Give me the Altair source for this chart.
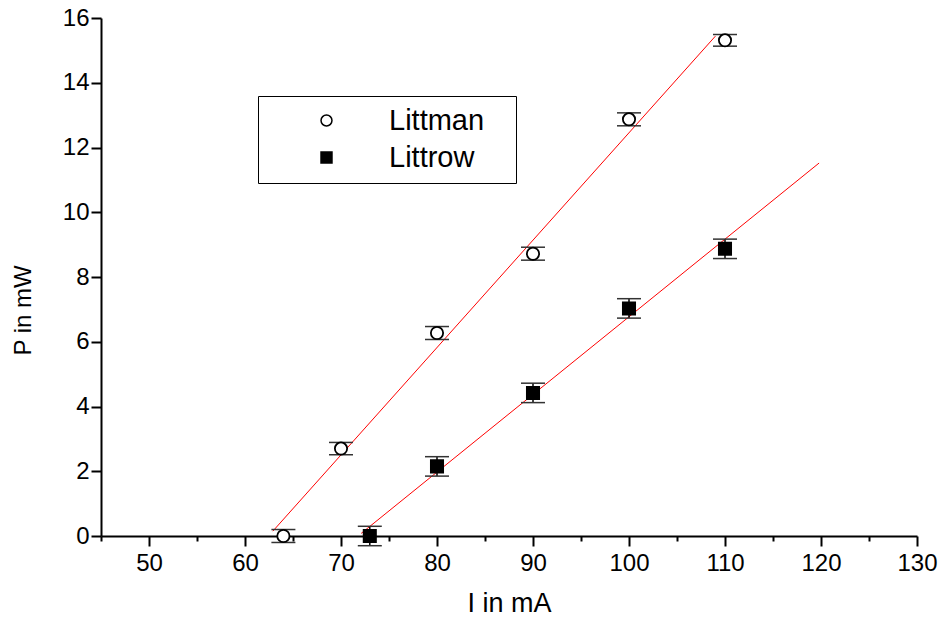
import altair as alt
import pandas as pd

littman_I = [64, 70, 80, 90, 100, 110]
littman_P = [0.0, 2.70, 6.27, 8.72, 12.87, 15.31]
littman_err = [0.20, 0.19, 0.20, 0.20, 0.20, 0.18]

littrow_I = [73, 80, 90, 100, 110]
littrow_P = [0.0, 2.15, 4.42, 7.03, 8.87]
littrow_err = [0.30, 0.30, 0.30, 0.30, 0.30]

# Fitted lines (end points)
fit_littman_I = [62.9, 109.0]
fit_littman_P = [0.15, 15.44]
fit_littrow_I = [72.1, 119.8]
fit_littrow_P = [0.08, 11.52]

x_ticks = list(range(45, 131, 5))
y_ticks = list(range(0, 17, 1))
series_names = ["Littman", "Littrow"]

rows = []
for i, p, e in zip(littman_I, littman_P, littman_err):
    rows.append({"series": "Littman", "I": i, "P": p, "lo": p - e, "hi": p + e})
for i, p, e in zip(littrow_I, littrow_P, littrow_err):
    rows.append({"series": "Littrow", "I": i, "P": p, "lo": p - e, "hi": p + e})
pts = pd.DataFrame(rows)

fit_rows = []
for i, p in zip(fit_littman_I, fit_littman_P):
    fit_rows.append({"series": "Littman", "I": i, "P": p})
for i, p in zip(fit_littrow_I, fit_littrow_P):
    fit_rows.append({"series": "Littrow", "I": i, "P": p})
fit = pd.DataFrame(fit_rows)

FONT = "Liberation Sans"

xscale = alt.Scale(domain=[45, 130], nice=False, zero=False)
yscale = alt.Scale(domain=[0, 16], nice=False, zero=False)

xaxis = alt.Axis(
    title="I in mA", values=x_ticks,
    labelExpr="datum.value % 10 === 0 ? datum.label : ''",
    tickSize={"condition": {"test": "datum.value % 10 === 0", "value": 10}, "value": 5},
    labelFont=FONT, labelFontSize=24, labelPadding=5, labelColor="black",
    titleFont=FONT, titleFontSize=27, titleFontWeight="normal", titleColor="black",
    titleY=67, titleBaseline="middle",
    domainColor="black", domainWidth=2, tickColor="black", tickWidth=2,
    grid=False, labelFlush=False, labelOverlap=False,
)
yaxis = alt.Axis(
    title="P in mW", values=y_ticks,
    labelExpr="datum.value % 2 === 0 ? datum.label : ''",
    tickSize={"condition": {"test": "datum.value % 2 === 0", "value": 10}, "value": 5},
    labelFont=FONT, labelFontSize=24, labelPadding=2, labelColor="black",
    titleFont=FONT, titleFontSize=24, titleFontWeight="normal", titleColor="black",
    titleX=-78, titleY=292, titleBaseline="middle", titleAngle=270,
    domainColor="black", domainWidth=2, tickColor="black", tickWidth=2,
    grid=False, labelFlush=False, labelOverlap=False,
)

legend = alt.Legend(
    title=None, orient="none", legendX=157, legendY=78,
    strokeColor="black", padding=10, fillColor="white",
    symbolOffset=44, labelOffset=48, rowPadding=7,
    labelFont=FONT, labelFontSize=29, labelColor="black",
    symbolSize=120, symbolStrokeColor="black", symbolStrokeWidth=1.5,
    labelExpr="datum.label + '\u2800'",
)

lines = alt.Chart(fit).mark_line(color="#ff0000", strokeWidth=1).encode(
    x=alt.X("I:Q", scale=xscale, axis=xaxis),
    y=alt.Y("P:Q", scale=yscale, axis=yaxis),
    detail="series:N",
)

rules = alt.Chart(pts).mark_rule(color="black", strokeWidth=1.5).encode(
    x="I:Q", y="lo:Q", y2="hi:Q",
)

caps_lo = alt.Chart(pts).mark_tick(orient="horizontal", size=24, thickness=1.5, color="#333333", opacity=1).encode(
    x="I:Q", y="lo:Q",
)
caps_hi = alt.Chart(pts).mark_tick(orient="horizontal", size=24, thickness=1.5, color="#333333", opacity=1).encode(
    x="I:Q", y="hi:Q",
)

points = alt.Chart(pts).mark_point(strokeWidth=1.8, opacity=1, fillOpacity=1, size=150).encode(
    x="I:Q", y="P:Q",
    shape=alt.Shape("series:N", scale=alt.Scale(domain=series_names, range=["circle", "square"]), legend=legend),
    fill=alt.Fill("series:N", scale=alt.Scale(domain=series_names, range=["white", "black"]), legend=legend),
    stroke=alt.Stroke("series:N", scale=alt.Scale(domain=series_names, range=["black", "black"]), legend=legend),
)

chart = alt.layer(lines, rules, caps_lo, caps_hi, points).properties(
    width=816, height=518,
    autosize=alt.AutoSizeParams(type="none"),
    padding={"left": 93, "top": 10, "right": 24, "bottom": 80},
    background="white",
).configure_view(stroke=None)

chart.save("out.html", embed_options={"renderer": "svg", "actions": False})
